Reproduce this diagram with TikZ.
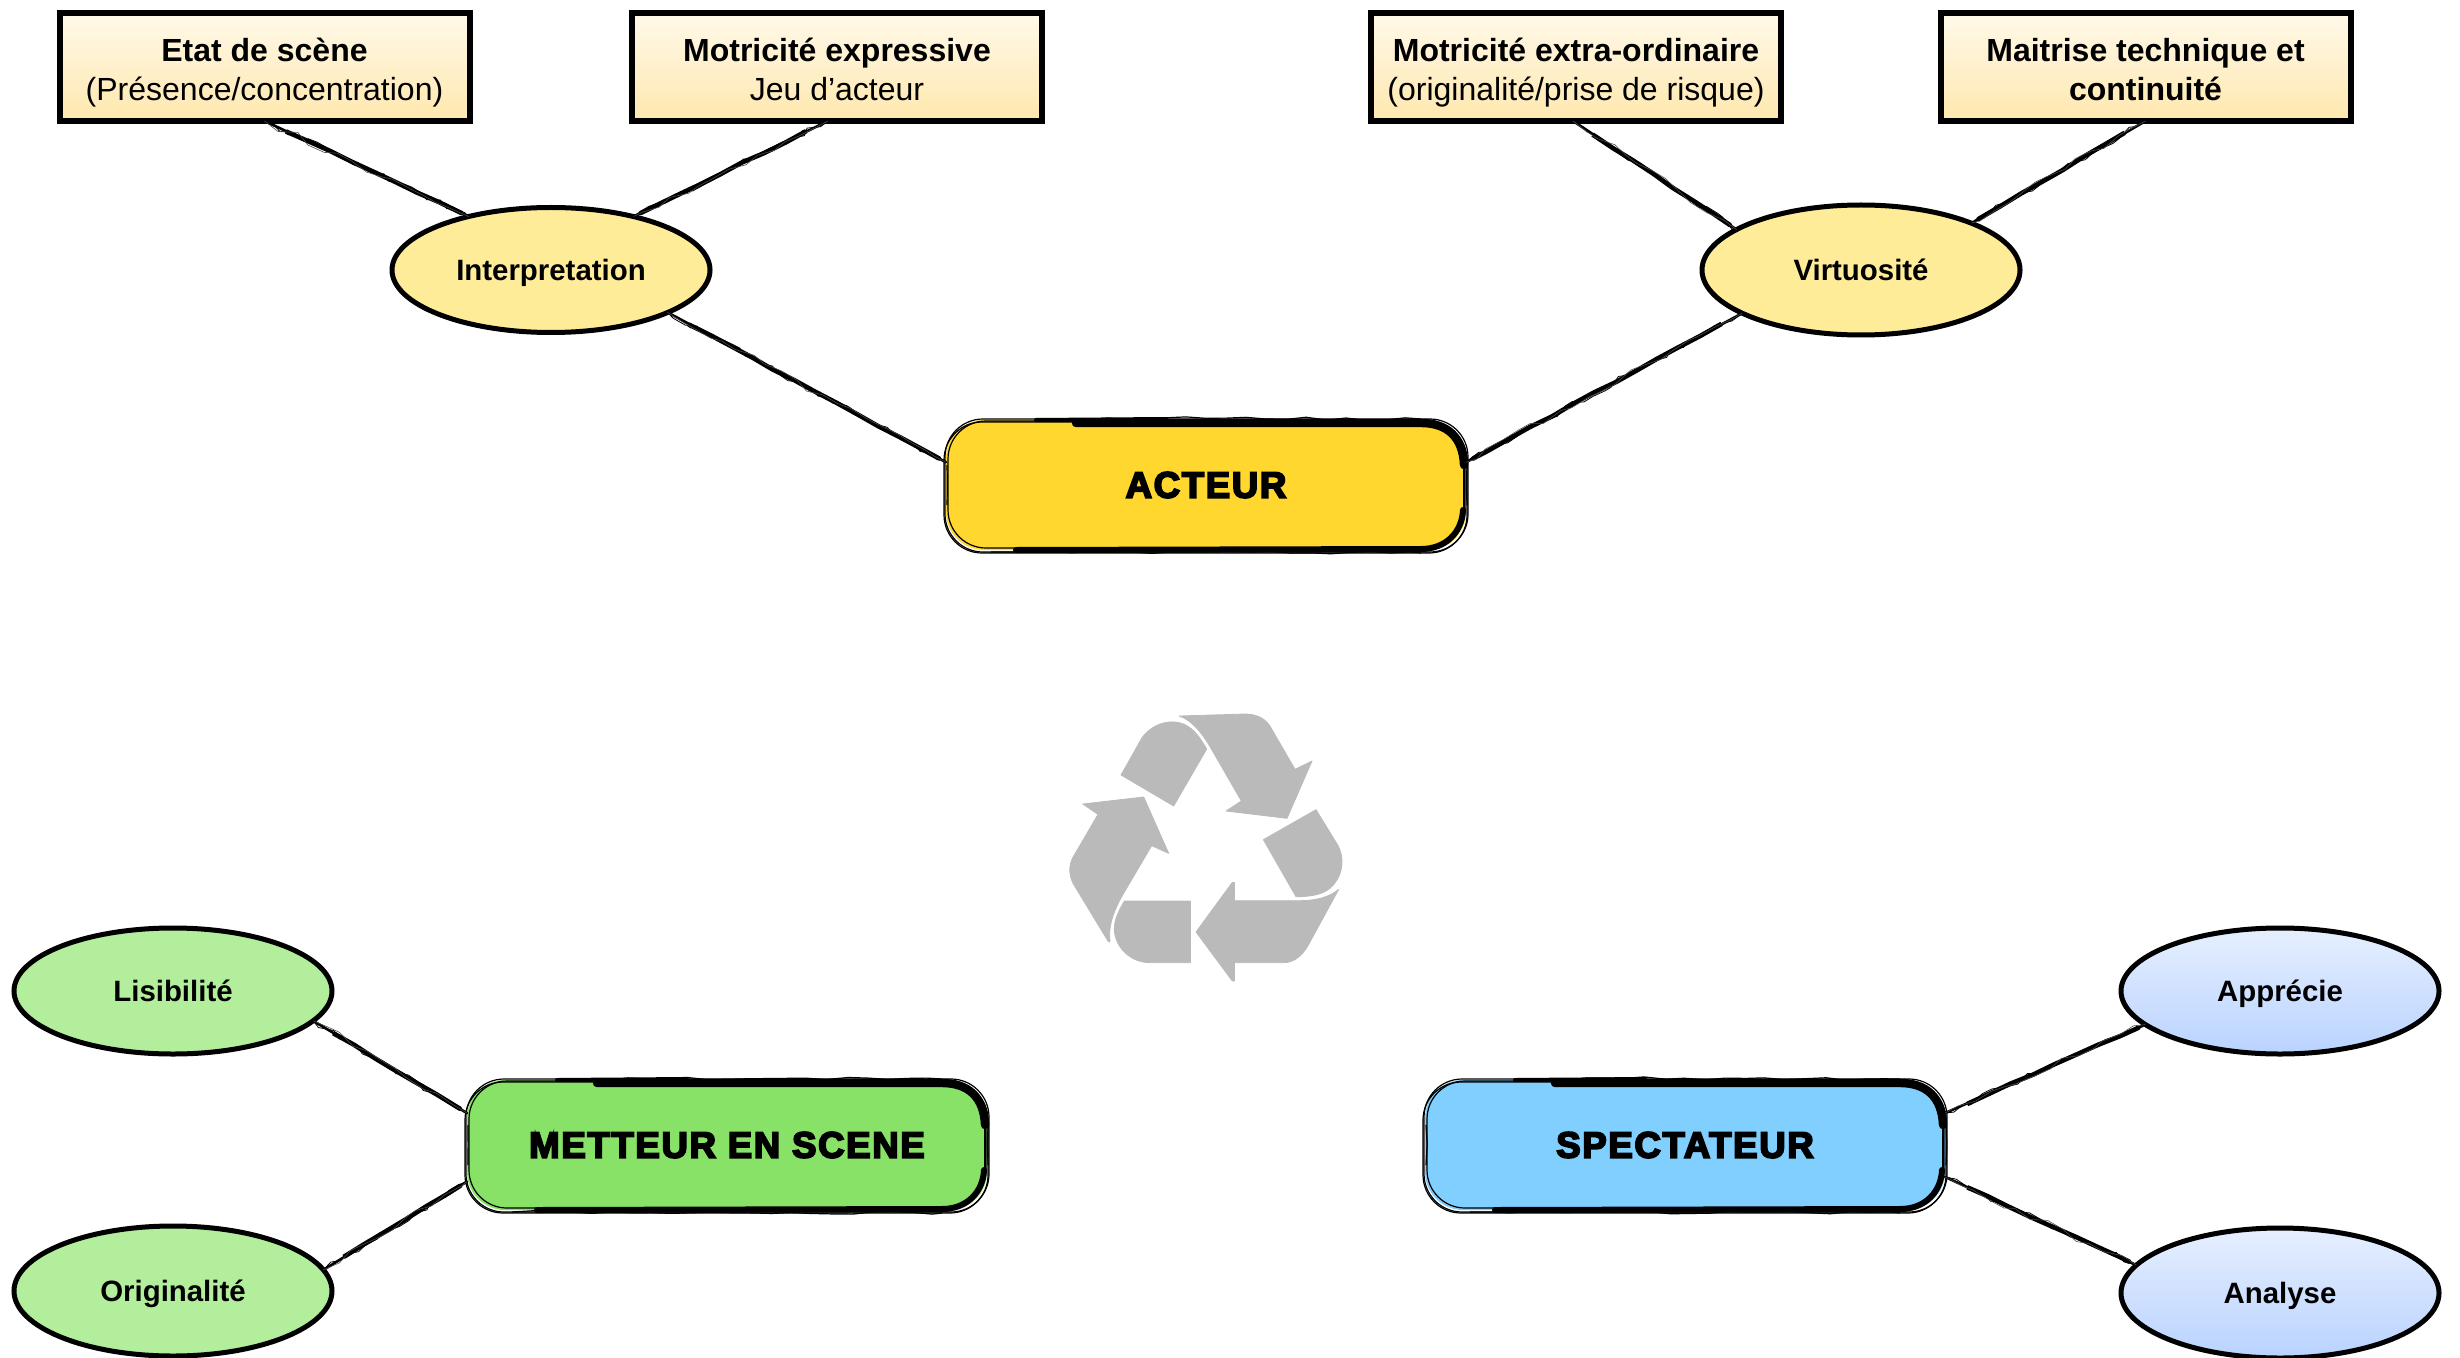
\documentclass[tikz,border=0pt]{standalone}
\usepackage{fontspec}
\setmainfont{Liberation Sans}
\newfontfamily\heavyfont[FakeBold=5,LetterSpace=4.5]{Liberation Sans Bold}
\usetikzlibrary{shapes.geometric,decorations.pathmorphing,calc}
\definecolor{acteurc}{HTML}{FFD72E}
\definecolor{metteurc}{HTML}{88E268}
\definecolor{spectc}{HTML}{80CFFF}
\definecolor{ellY}{HTML}{FFEC99}
\definecolor{ellG}{HTML}{B2EE9B}
\definecolor{ellBt}{HTML}{E6EFFF}
\definecolor{ellBb}{HTML}{B9D3FF}
\definecolor{rectT}{HTML}{FFF9EA}
\definecolor{rectB}{HTML}{FFE8AE}
\definecolor{recyc}{HTML}{BABABA}
\newcommand{\lineprop}{\rule[-3.6pt]{0pt}{19.5pt}}
\newcommand{\lineone}{\rule[-3.6pt]{0pt}{21pt}}
\tikzset{
  tbox/.style={draw=black,line width=3pt,top color=rectT,bottom color=rectB,minimum width=205pt,minimum height=54pt,inner sep=0pt,outer sep=0pt,align=center,font=\fontsize{16}{19.5}\selectfont},
  bubble/.style={ellipse,draw=black,line width=2.5pt,minimum width=159pt,minimum height=#1,inner sep=0pt,outer sep=0pt,text height=11.5pt,text depth=.6pt,font=\fontsize{14.7}{17}\selectfont\bfseries},
  mainbox/.style={rectangle,rounded corners=19pt,fill=#1,minimum width=260pt,minimum height=65pt,inner sep=0pt,outer sep=0pt,font=\fontsize{18.3}{22}\heavyfont},
  brush/.style={line width=1.3pt,line cap=round,
    postaction={draw,line width=2.3pt,shorten <=14pt,shorten >=4pt,decorate,decoration={random steps,segment length=12pt,amplitude=.35pt}},
    postaction={draw,line width=.4pt,decorate,decoration={random steps,segment length=5pt,amplitude=1.6pt}},
    postaction={draw,line width=.3pt,black!70,decorate,decoration={random steps,segment length=8pt,amplitude=1.9pt}}},
  outlinepen/.style={draw=black,line width=.6pt,rounded corners=19pt},
  rough/.style={draw=black,line width=.6pt,decorate,decoration={random steps,segment length=10pt,amplitude=.7pt}},
  inkstroke/.style={draw=black,line width=#1,line cap=round,line join=round},
  recycle/.style={fill=recyc,draw=recyc,line width=.4pt,line join=round}
}
\newcommand{\brushframe}[1]{%
  \draw[outlinepen] ($(#1.north west)+(-1,-1)$) rectangle ($(#1.south east)+(2,2)$);
  \draw[outlinepen] ($(#1.north west)+(2,1)$) rectangle ($(#1.south east)+(-1,-2)$);
  \draw[outlinepen] ($(#1.north west)+(-2,2)$) rectangle ($(#1.south east)+(1,3)$);
  \path[rough] ($(#1.north west)+(1,45)$) -- ($(#1.south west)+(1,-45)$);
  \path[rough] ($(#1.north east)+(1,45)$) -- ($(#1.south east)+(1,-45)$);
  \path[rough] ($(#1.south west)+(45,2)$) -- ($(#1.south east)+(-45,3)$);
  \path[rough] ($(#1.north)+(-100,-2)$) -- ($(#1.north east)+(-45,-1)$);
  \draw[inkstroke=2pt] ($(#1.north west)+(90,0)$) -- ($(#1.north)+(-40,-1)$);
  \draw[inkstroke=4.2pt] ($(#1.north)+(-130,3)$) -- ($(#1.north east)+(-45,3)$) .. controls ($(#1.north east)+(-18,3)$) and ($(#1.north east)+(-3,18)$) .. ($(#1.north east)+(-2,45)$);
  \draw[inkstroke=1pt] ($(#1.north east)+(-2,45)$) -- ($(#1.south east)+(-2,-38)$);
  \draw[inkstroke=3pt] ($(#1.south west)+(70,0)$) -- ($(#1.south east)+(-45,-1)$) .. controls ($(#1.south east)+(-20,-1)$) and ($(#1.south east)+(-4,-18)$) .. ($(#1.south east)+(-3,-40)$);
}
\begin{document}
\begin{tikzpicture}[x=0.5pt,y=-0.5pt]
\pgfmathsetseed{7}
\useasboundingbox (0,0) rectangle (2460,1358);

% recycling symbol
\begin{scope}[shift={(1000,680)},x=0.16667pt,y=-0.16667pt]
\path[recycle] (363,285) -- (425,175) .. controls (455,130) and (520,110) .. (565,140) .. controls (590,155) and (610,190) .. (620,207) -- (521,378) -- cycle;
\path[recycle] (537,108) -- (735,102) .. controls (775,102) and (800,120) .. (812,142) -- (885,268) -- (936,243) -- (861,415) -- (678,393) -- (724,363) -- (630,200) .. controls (600,150) and (570,118) .. (537,108) -- cycle;
\path[recycle] (790,479) -- (948,389) -- (1010,490) .. controls (1035,530) and (1030,580) .. (1000,615) .. controls (975,645) and (930,650) .. (888,650) -- cycle;
\path[recycle] (1016,628) -- (925,795) .. controls (905,830) and (880,848) .. (850,848) -- (703,848) -- (703,903) -- (697,903) -- (588,756) -- (697,607) -- (703,607) -- (703,662) -- (900,662) .. controls (950,662) and (990,650) .. (1016,628) -- cycle;
\path[recycle] (373,663) -- (571,663) -- (571,848) -- (450,848) .. controls (390,848) and (345,800) .. (343,750) .. controls (342,720) and (355,695) .. (373,663) -- cycle;
\path[recycle] (248,372) -- (431,351) -- (506,520) -- (455,497) -- (365,650) .. controls (335,705) and (325,745) .. (330,785) -- (325,785) -- (225,620) .. controls (205,590) and (205,555) .. (220,530) -- (294,403) -- cycle;
\end{scope}

% main boxes
\node[mainbox=acteurc] (acteur) at (1206,485) {ACTEUR};
\node[mainbox=metteurc] (metteur) at (727,1145) {METTEUR EN SCENE};
\node[mainbox=spectc] (spect) at (1685,1145) {SPECTATEUR};
\brushframe{acteur}
\brushframe{metteur}
\brushframe{spect}

% text boxes
\node[tbox] (etat) at (264.5,67) {\lineone\textbf{Etat de scène}\\\lineprop(Présence/concentration)};
\node[tbox] (expr) at (837,67) {\lineone\textbf{Motricité expressive}\\\lineprop Jeu d’acteur};
\node[tbox] (extra) at (1576,67) {\lineone\textbf{Motricité extra-ordinaire}\\\lineprop(originalité/prise de risque)};
\node[tbox] (tech) at (2145.5,67) {\lineone\textbf{Maitrise technique et}\\\lineprop\textbf{continuité}};

% ellipses
\node[bubble=62.5pt,fill=ellY] (interp) at (551,270) {Interpretation};
\node[bubble=65pt,fill=ellY] (virt) at (1861,270) {Virtuosité};
\node[bubble=63pt,fill=ellG] (lisib) at (173,991) {Lisibilité};
\node[bubble=65pt,fill=ellG] (orig) at (173,1291) {Originalité};
\node[bubble=63pt,top color=ellBt,bottom color=ellBb] (appr) at (2280,991) {Apprécie};
\node[bubble=65pt,top color=ellBt,bottom color=ellBb] (anal) at (2280,1293) {Analyse};

% connectors
\draw[brush] (etat.south) -- (interp.147);
\draw[brush] ($(expr.south)+(-9,0)$) -- (interp.33);
\draw[brush] (interp.-20) -- (acteur.175.8);
\draw[brush] ($(extra.south)+(-3,0)$) -- (virt.162);
\draw[brush] (tech.south) -- (virt.23.5);
\draw[brush] (virt.200) -- (acteur.5);
\draw[brush] (lisib.-12) -- (metteur.173.6);
\draw[brush] (orig.8.6) -- (metteur.188.8);
\draw[brush] (spect.7.4) -- (appr.194);
\draw[brush] (spect.-7.6) -- (anal.169);
\end{tikzpicture}
\end{document}
